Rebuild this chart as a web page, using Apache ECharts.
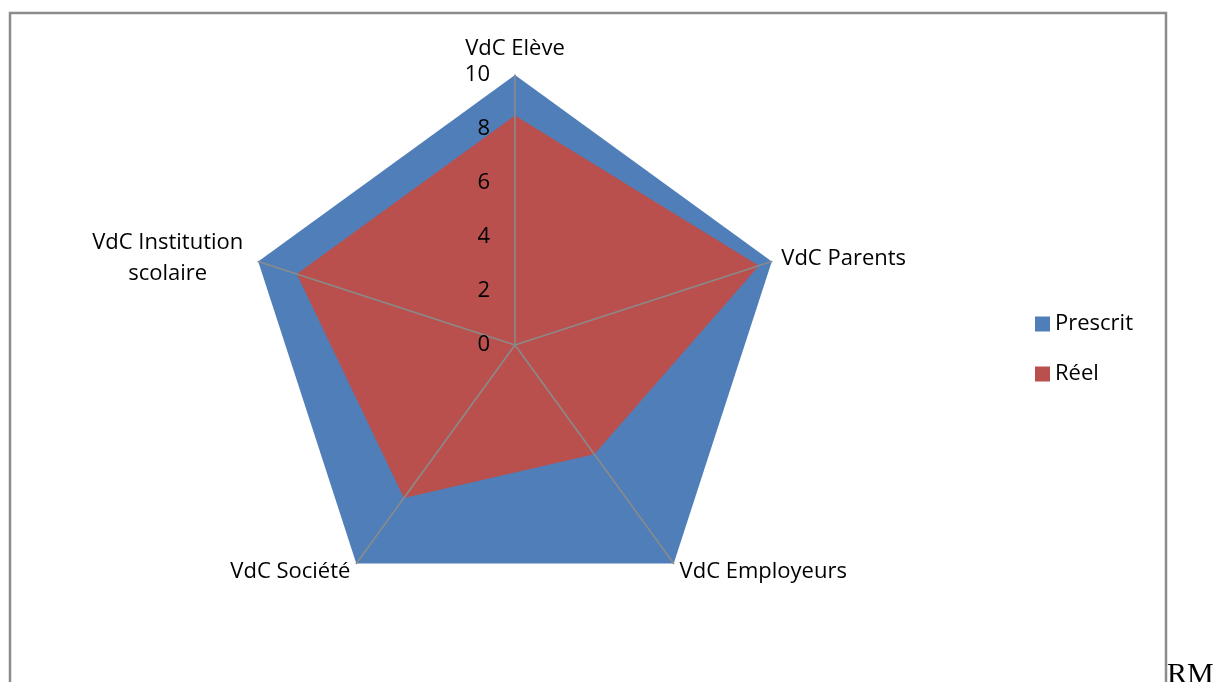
<!DOCTYPE html>
<html>
<head>
<meta charset="utf-8">
<script src="https://cdn.jsdelivr.net/npm/echarts@6/dist/echarts.min.js"></script>
<style>
  html, body { margin: 0; padding: 0; background: #fff; }
  #chart { width: 1216px; height: 682px; }
</style>
</head>
<body>
<div id="chart"></div>
<script>
// Radar axes in drawing order (ECharts lays them out counter-clockwise from the top)
const categories = ['VdC Elève', 'VdC Institution\nscolaire', 'VdC Société', 'VdC Employeurs', 'VdC Parents'];
const seriesNames = ['Prescrit', 'Réel'];
const prescrit = [10, 10, 10, 10, 10];
const reel = [8.5, 8.5, 7, 5, 9.5];
const axisMax = 10;
const tickLabels = ['0', '2', '4', '6', '8', '10'];

const FONT = 'Open Sans';
const FS = 22;

const chart = echarts.init(document.getElementById('chart'));

const indicator = categories.map((name, i) => ({
  name: name,
  min: 0,
  max: axisMax,
  // only the top axis carries the scale labels
  axisLabel: { show: i === 0 }
}));

chart.setOption({
  animation: false,
  textStyle: { fontFamily: FONT },
  legend: {
    orient: 'vertical',
    left: 1030,
    top: 308,
    icon: 'rect',
    itemWidth: 15,
    itemHeight: 15,
    itemGap: 28,
    textStyle: { fontFamily: FONT, fontSize: FS, color: '#000', lineHeight: 22 },
    data: seriesNames
  },
  radar: {
    z: 10,
    center: [515, 345],
    radius: 270,
    shape: 'polygon',
    splitNumber: 5,
    startAngle: 90,
    nameGap: 10,
    axisName: {
      color: '#000',
      fontFamily: FONT,
      fontSize: FS,
      lineHeight: 31,
      formatter: function (name) {
        return name.indexOf('\n') >= 0
          ? name.split('\n').map(s => '{c|' + s + '}').join('\n')
          : name;
      },
      rich: { c: { width: 162, align: 'center', fontSize: FS, fontFamily: FONT, color: '#000', lineHeight: 31 } }
    },
    splitLine: { show: false },
    splitArea: { show: false },
    axisLine: { show: true, lineStyle: { color: '#8a8a8a', width: 1.6 } },
    axisTick: { show: false },
    axisLabel: {
      show: true,
      color: '#000',
      fontFamily: FONT,
      fontSize: FS,
      margin: 25,
      formatter: function (v) { return tickLabels[Math.round(v / 2)] || ''; }
    },
    indicator: indicator
  },
  series: [{
    type: 'radar',
    z: 2,
    symbol: 'none',
    data: [
      {
        name: seriesNames[0],
        value: prescrit,
        itemStyle: { color: '#4F7EB9' },
        lineStyle: { width: 0, color: '#4F7EB9' },
        areaStyle: { color: '#4F7EB9', opacity: 1 }
      },
      {
        name: seriesNames[1],
        value: reel,
        itemStyle: { color: '#BA504D' },
        lineStyle: { width: 0, color: '#BA504D' },
        areaStyle: { color: '#BA504D', opacity: 1 }
      }
    ]
  }],
  graphic: [
    {
      type: 'rect',
      shape: { x: 10, y: 13, width: 1156, height: 720 },
      style: { fill: 'none', stroke: '#8c8c8c', lineWidth: 2.5 }
    },
    {
      type: 'text',
      left: 1167,
      top: 660,
      style: { text: 'RM', font: '30px "Liberation Serif"', fill: '#000' }
    }
  ]
});
</script>
</body>
</html>
